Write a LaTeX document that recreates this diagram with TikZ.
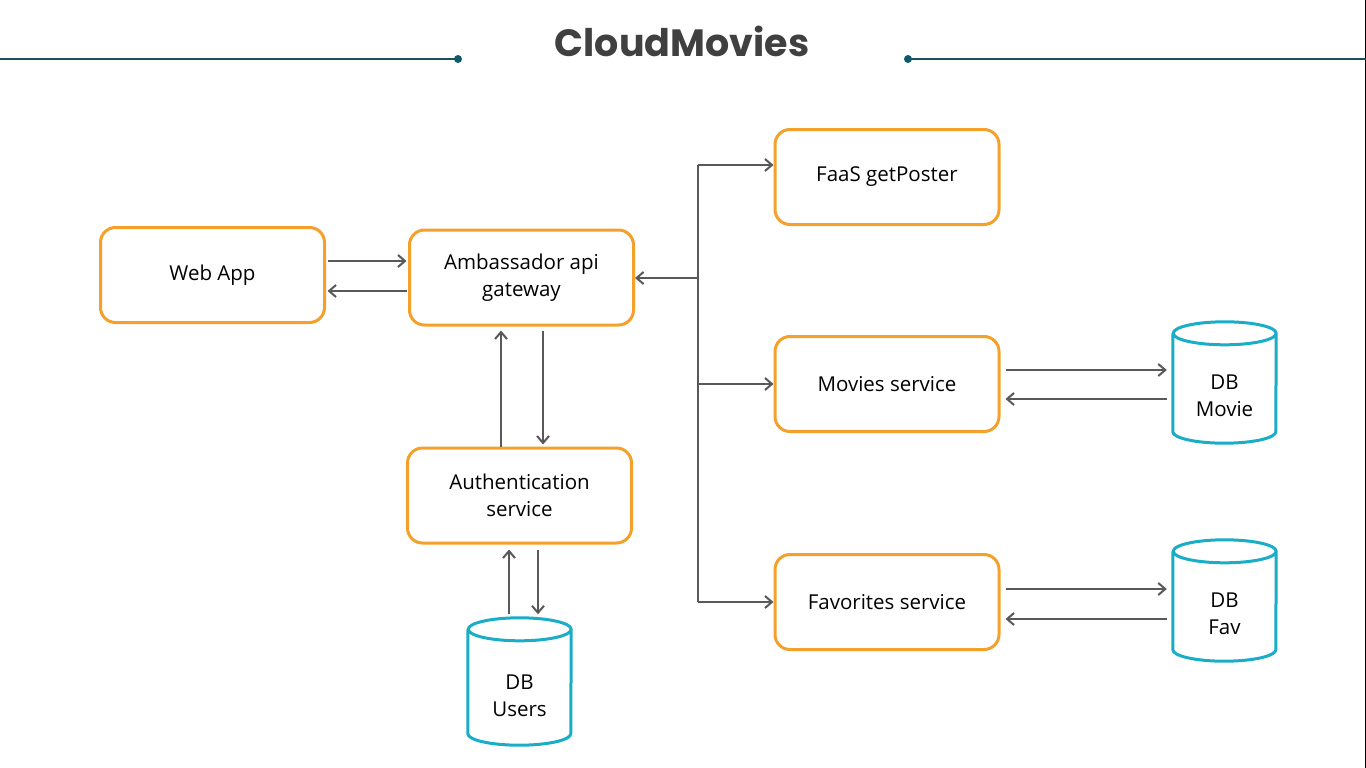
\documentclass[tikz,border=0pt]{standalone}
\usepackage{fontspec}
\setmainfont{Open Sans}
\newfontfamily\titlefont{Poppins}
\usetikzlibrary{arrows.meta,calc}
\definecolor{boxorange}{HTML}{F5A02B}
\definecolor{dbcyan}{HTML}{1AADC8}
\definecolor{arrgray}{HTML}{595959}
\definecolor{teal}{HTML}{1B4F5C}
\definecolor{dotteal}{HTML}{0E5A69}
\definecolor{titlegray}{HTML}{404040}
\newcommand\drawdbcyl[1]{%
  \draw[dbline] (#1.north west) -- (#1.south west)
    arc[start angle=180,end angle=0,x radius=51.5,y radius=11.5] -- (#1.north east)
    arc[start angle=0,end angle=-360,x radius=51.5,y radius=11.5];}
\begin{document}
\begin{tikzpicture}[x=1pt,y=-1pt,
  box/.style={draw=boxorange,line width=3pt,rounded corners=15pt,fill=white,
    minimum width=224pt,minimum height=95pt,align=center,
    font=\fontsize{20.5}{27}\selectfont,text=black,inner sep=0pt},
  dbnode/.style={minimum width=103pt,inner sep=0pt,draw=none},
  dblabel/.style={align=center,font=\fontsize{20.5}{27}\selectfont,text=black,inner sep=0pt},
  dbline/.style={draw=dbcyan,line width=3pt,line join=round},
  arr/.style={draw=arrgray,line width=2pt,-{Straight Barb[length=7pt,width=12pt,line width=2pt]}},
  trunk/.style={draw=arrgray,line width=2pt}]
\useasboundingbox (0,0) rectangle (1366,768);
\fill[white] (0,0) rectangle (1366,768);
\draw[black,line width=1.5pt] (1365.25,0) coordinate (edgetop) -- (1365.25,768) coordinate (edgebot);

% title
\node[font=\titlefont\bfseries\fontsize{38}{42}\selectfont,text=titlegray,inner sep=0pt] (title) at (682,41) {CloudMovies};
\coordinate (tl0) at (0,59);
\coordinate (tl1) at (458,59);
\coordinate (tr0) at (908,59);
\coordinate (tr1) at (1366,59);
\draw[teal,line width=1.2pt] (tl0) -- (tl1);
\draw[teal,line width=1.2pt] (tr0) -- (tr1);
\fill[dotteal] (tl1) circle[radius=4];
\fill[dotteal] (tr0) circle[radius=4];

% boxes
\node[box] (web) at (212.5,275) {Web App};
\node[box] (amb) at (521.5,277.5) {Ambassador api\\gateway};
\node[box] (faas) at (887,177) {FaaS getPoster};
\node[box] (mov) at (887,384) {Movies service};
\node[box] (fav) at (887,602) {Favorites service};
\node[box] (auth) at (519.5,495.5) {Authentication\\service};

% databases
\node[dbnode,minimum height=98pt] (dbm) at (1224.5,382.5) {};
\drawdbcyl{dbm}
\node[dblabel] (dbmt) at (1224.5,396) {DB\\Movie};
\node[dbnode,minimum height=98pt] (dbf) at (1224.5,600.5) {};
\drawdbcyl{dbf}
\node[dblabel] (dbft) at (1224.5,614) {DB\\Fav};
\node[dbnode,minimum height=104pt] (dbu) at (519.5,681.5) {};
\drawdbcyl{dbu}
\node[dblabel] (dbut) at (519.5,696) {DB\\Users};

% web <-> ambassador
\draw[arr] ($(web.east)+(1.5,-14)$) -- ($(amb.west|-web.east)+(-1.5,-14)$);
\draw[arr] ($(amb.west|-web.east)+(-1.5,16)$) -- ($(web.east)+(1.5,16)$);

% hub
\coordinate (hub) at (698,278);
\draw[arr] (hub) -- (amb.east|-hub);
\draw[trunk] ($(faas.west)+(-76,-12)$) -- ($(fav.west)+(-76,0)$);
\draw[arr] ($(faas.west)+(-76,-12)$) -- ($(faas.west)+(0,-12)$);
\draw[arr] (hub|-mov.west) -- (mov.west);
\draw[arr] (hub|-fav.west) -- (fav.west);

% ambassador <-> auth
\draw[arr] ($(auth.north)+(-18.5,0)$) -- ($(amb.south)+(-20.5,4)$);
\draw[arr] ($(amb.south)+(21.5,4)$) -- ($(auth.north)+(23.5,-2)$);

% auth <-> db users
\draw[arr] ($(dbu.north)+(-10.5,-15)$) -- ($(auth.south)+(-10.5,5)$);
\draw[arr] ($(auth.south)+(18.5,5)$) -- ($(dbu.north)+(18.5,-15)$);

% movies <-> db movie
\draw[arr] ($(mov.east)+(5,-14)$) -- ($(dbm.west|-mov.east)+(-6,-14)$);
\draw[arr] ($(dbm.west|-mov.east)+(-6,15)$) -- ($(mov.east)+(5,15)$);

% favorites <-> db fav
\draw[arr] ($(fav.east)+(5,-13)$) -- ($(dbf.west|-fav.east)+(-6,-13)$);
\draw[arr] ($(dbf.west|-fav.east)+(-6,17)$) -- ($(fav.east)+(5,17)$);
\end{tikzpicture}
\end{document}
